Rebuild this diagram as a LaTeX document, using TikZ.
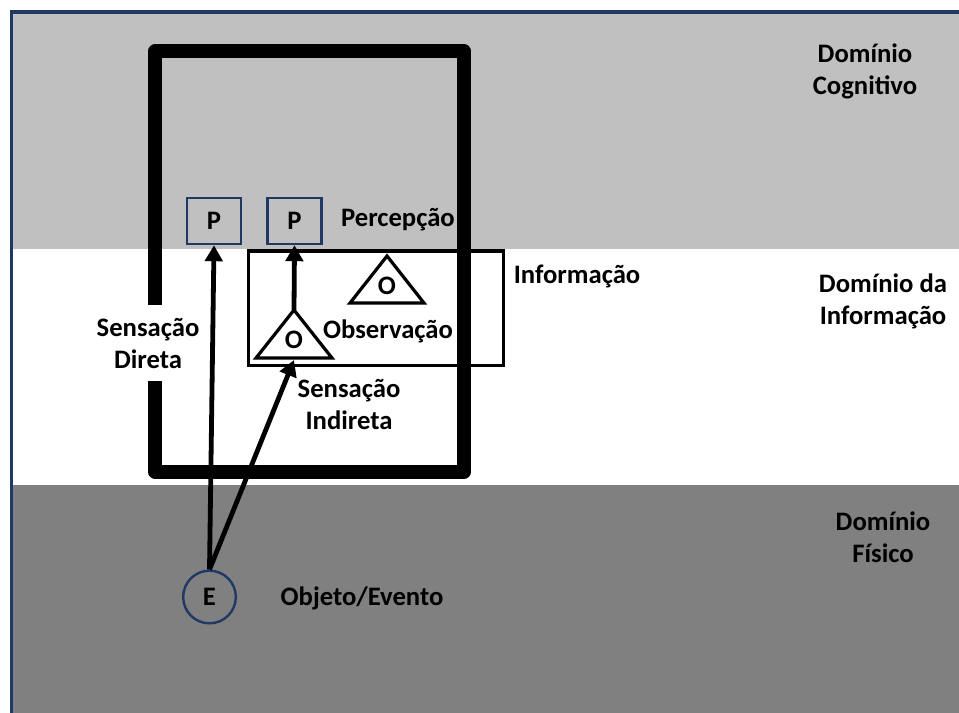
\documentclass[tikz,border=0pt]{standalone}
\usepackage{fontspec}
\setmainfont{Carlito}
\usetikzlibrary{arrows.meta}
\definecolor{lightband}{HTML}{C0C0C0}
\definecolor{darkband}{HTML}{808080}
\definecolor{navy}{HTML}{1F3864}
\begin{document}
\begin{tikzpicture}[x=0.75pt,y=-0.75pt,
  font=\bfseries\fontsize{20}{24}\selectfont,
  lbl/.style={align=center, inner sep=0pt, text=black},
  pbox/.style={draw=navy, line width=1.8pt, fill=lightband, inner sep=0pt,
    minimum width=40.5pt, minimum height=34.5pt},
  enode/.style={circle, draw=navy, line width=1.8pt, fill=darkband, inner sep=0pt,
    minimum size=39.5pt},
  tri/.style={draw=black, line width=2.4pt, line join=miter, fill=white},
  wall/.style={draw=black, line width=10.5pt, line join=round},
  infobox/.style={draw=black, line width=2.5pt},
  sense/.style={draw=black, line width=3.6pt, -{Triangle[length=12pt,width=13pt]}}]
\useasboundingbox (0,0) rectangle (959,713);
% background and domain bands
\fill[white] (0,0) rectangle (959,713);
\fill[lightband] (13,14) rectangle (959,249);
\fill[white] (13,249) rectangle (959,485);
\fill[darkband] (13,485) rectangle (959,713);
\draw[navy, line width=2.6pt] (11.5,713) -- (11.5,12) -- (959,12);

% information box
\draw[infobox] (248.5,251) rectangle (503.5,365.5);

% thick wall of the agent
\draw[wall] (155,305) -- (155,51.5) -- (464,51.5) -- (464,471.5) -- (155,471.5) -- (155,381);

% perception boxes
\node[pbox] (p1) at (214,221) {P};
\node[pbox] (p2) at (294.5,221) {P};

% observation triangles
\draw[tri] (387,256) -- (424,303) -- (350,303) -- cycle;
\node[lbl] (o1) at (387,286) {O};
\draw[tri] (294,310) -- (332,358) -- (256,358) -- cycle;
\node[lbl] (o2) at (294,340) {O};
\coordinate (t2apex) at (294,310);
\coordinate (t2base) at (294,360);

% object / event
\node[enode] (e) at (209.5,597) {E};

% sensation arrows
\draw[sense] (t2apex) -- (p2.south);
\draw[sense] (e.north) -- (p1.south);
\draw[sense] (e.north) -- (t2base);

% labels
\node[lbl] (lperc) at (398,220) {Percepção};
\node[lbl] (lobs) at (388,331) {Observação};
\node[lbl] (linfo) at (577,276) {Informação};
\node[lbl] (ldir) at (148,343) {Sensação\\Direta};
\node[lbl] (lind) at (349,404) {Sensação\\Indireta};
\node[lbl] (lobj) at (362,598) {Objeto/Evento};
\node[lbl] (dcog) at (865,71) {Domínio\\Cognitivo};
\node[lbl] (dinf) at (883,301) {Domínio da\\Informação};
\node[lbl] (dfis) at (883,537) {Domínio\\Físico};
\end{tikzpicture}
\end{document}
